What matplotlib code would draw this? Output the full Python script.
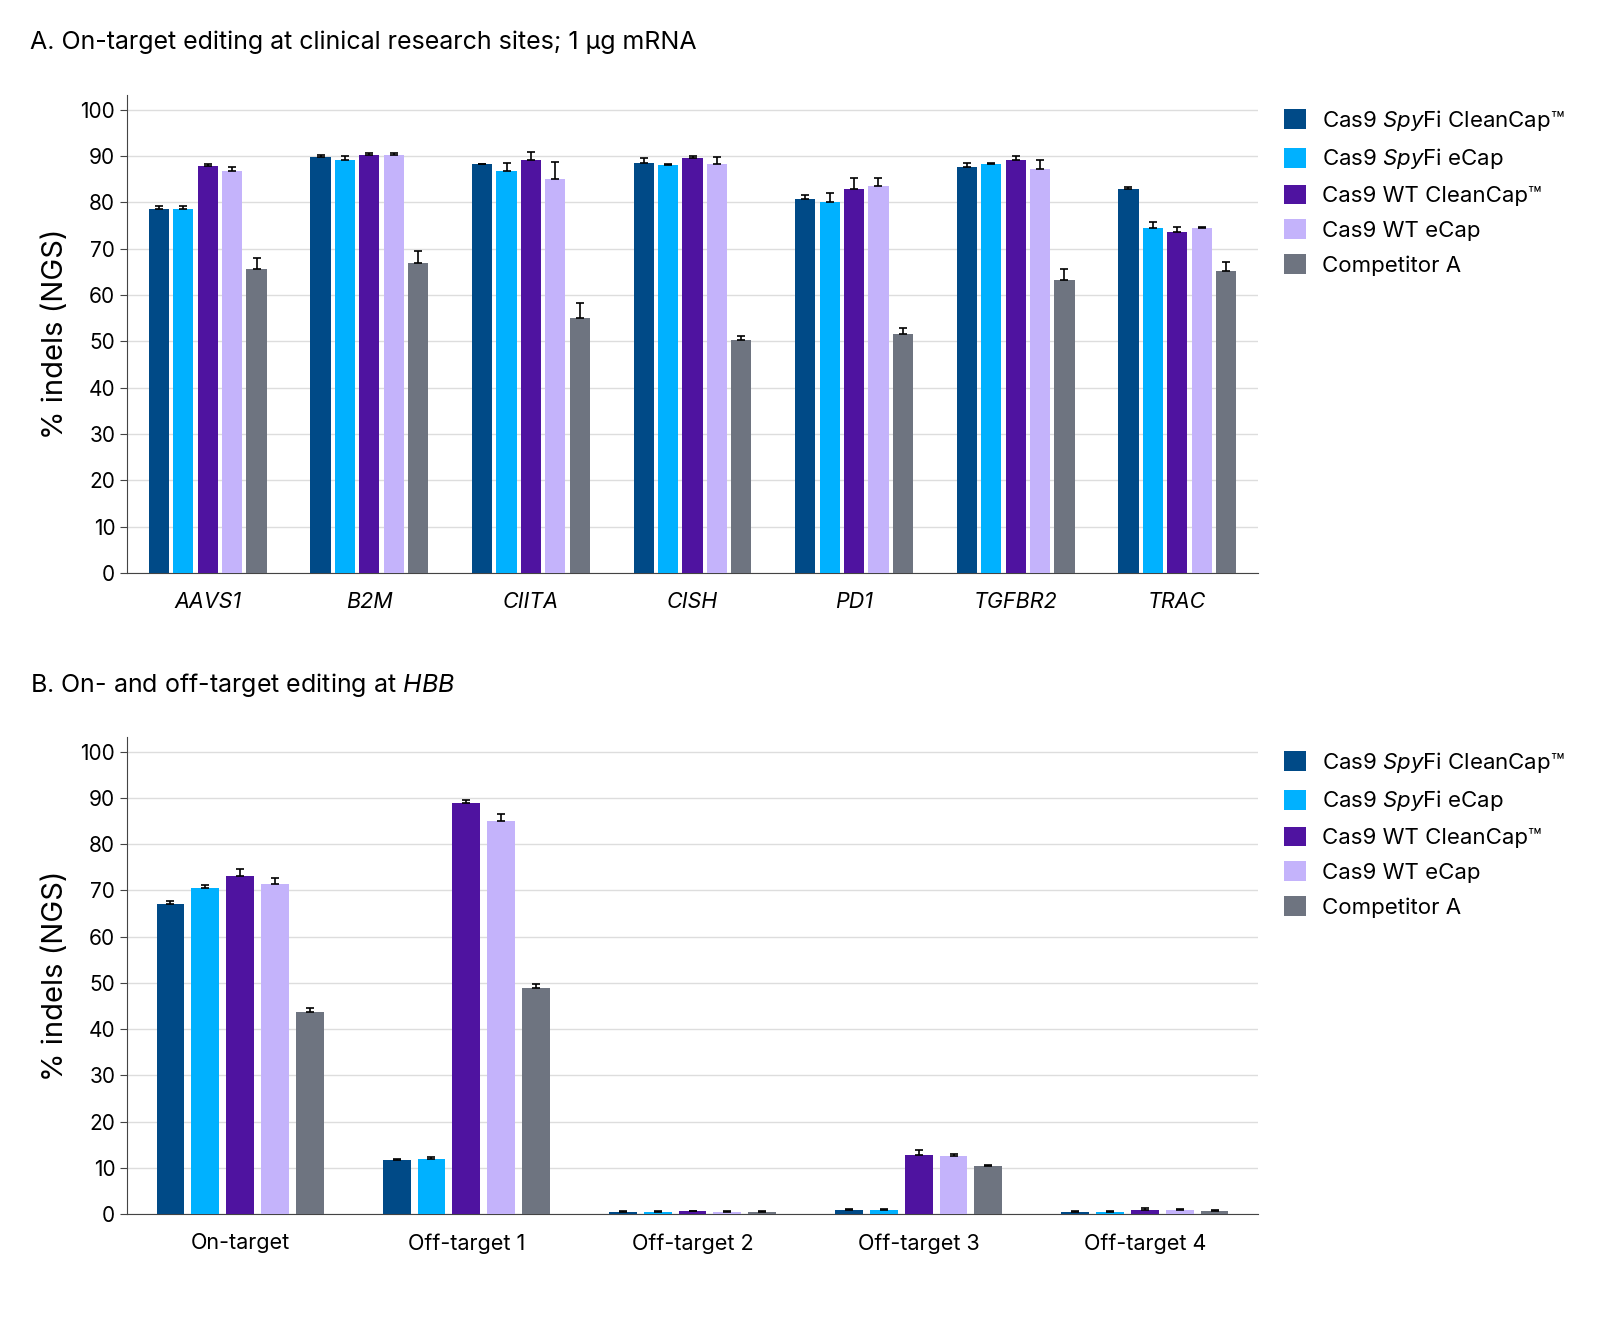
import numpy as np
import matplotlib.pyplot as plt

plt.rcParams['font.family'] = ['Inter', 'DejaVu Sans']
plt.rcParams['mathtext.fontset'] = 'custom'
plt.rcParams['mathtext.it'] = 'Inter:italic'
plt.rcParams['mathtext.rm'] = 'Inter'

series = [r'Cas9 $\it{Spy}$Fi CleanCap™', r'Cas9 $\it{Spy}$Fi eCap',
          'Cas9 WT CleanCap™', 'Cas9 WT eCap', 'Competitor A']
colors = ['#004a87', '#00b1ff', '#4f13a0', '#c4b3fb', '#6e7480']

sites_a = ['AAVS1', 'B2M', 'CIITA', 'CISH', 'PD1', 'TGFBR2', 'TRAC']
vals_a = [[78.5, 78.5, 87.8, 86.8, 65.7],
          [89.8, 89.2, 90.2, 90.2, 67.0],
          [88.3, 86.8, 89.2, 85.0, 55.0],
          [88.5, 88.0, 89.5, 88.3, 50.2],
          [80.8, 80.2, 83.0, 83.5, 51.7],
          [87.7, 88.2, 89.2, 87.2, 63.3],
          [83.0, 74.5, 73.7, 74.5, 65.3]]
err_a = [[0.8, 0.8, 0.5, 0.8, 2.3],
         [0.5, 0.9, 0.4, 0.4, 2.5],
         [0.0, 1.8, 1.7, 3.8, 3.3],
         [1.0, 0.3, 0.5, 1.5, 1.0],
         [0.8, 1.8, 2.2, 1.7, 1.3],
         [0.8, 0.3, 0.8, 2.0, 2.3],
         [0.4, 1.3, 1.1, 0.2, 1.9]]

sites_b = ['On-target', 'Off-target 1', 'Off-target 2', 'Off-target 3', 'Off-target 4']
vals_b = [[67.0, 70.5, 73.2, 71.5, 43.8],
          [11.6, 12.0, 89.0, 85.0, 49.0],
          [0.5, 0.5, 0.6, 0.5, 0.5],
          [0.9, 0.9, 12.7, 12.6, 10.3],
          [0.5, 0.5, 0.9, 0.8, 0.6]]
err_b = [[0.8, 0.6, 1.5, 1.2, 0.8],
         [0.3, 0.3, 0.5, 1.6, 0.8],
         [0.1, 0.1, 0.1, 0.1, 0.1],
         [0.2, 0.2, 1.2, 0.4, 0.3],
         [0.1, 0.1, 0.3, 0.2, 0.2]]

fig = plt.figure(figsize=(16.01, 13.17), dpi=100)


def panel(rect, sites, vals, errs, step, width, italic, title, title_y):
    ax = fig.add_axes(rect)
    vals = np.array(vals)
    errs = np.array(errs)
    x = np.arange(len(sites))
    for i in range(5):
        ax.bar(x + (i - 2) * step, vals[:, i], width, color=colors[i], label=series[i],
               zorder=3, yerr=[np.zeros(len(sites)), errs[:, i]],
               error_kw=dict(ecolor='black', elinewidth=1.2, capsize=3, capthick=1.2, zorder=4))
    ax.set_xlim(-0.5, len(sites) - 0.5)
    ax.set_ylim(0, 103.2)
    ax.set_yticks(range(0, 101, 10))
    ax.yaxis.grid(True, color='#dddddd', lw=1, zorder=0)
    ax.set_xticks(x)
    ax.set_xticklabels(sites, fontsize=15.5, style='italic' if italic else 'normal')
    ax.tick_params(axis='x', length=0, pad=14)
    ax.tick_params(axis='y', labelsize=15, length=5, color='#444444')
    for s in ['top', 'right']:
        ax.spines[s].set_visible(False)
    for s in ['left', 'bottom']:
        ax.spines[s].set_color('#444444')
    ax.set_ylabel('% indels (NGS)', fontsize=21, labelpad=8)
    fig.text(30 / 1601, title_y, title, fontsize=18, va='center')
    ax.legend(loc='upper left', bbox_to_anchor=(1275 / 1601, rect[1] + rect[3] - 0.003),
              bbox_transform=fig.transFigure, frameon=False, fontsize=16,
              handlelength=1.0, handleheight=1.0, labelspacing=0.6, handletextpad=0.7,
              borderaxespad=0)
    return ax


panel([127 / 1601, 1 - 573 / 1317, 1131 / 1601, 478 / 1317], sites_a, vals_a, err_a,
      0.151, 0.125, True, 'A. On-target editing at clinical research sites; 1 µg mRNA', 1 - 42 / 1317)
panel([127 / 1601, 1 - 1214 / 1317, 1131 / 1601, 477 / 1317], sites_b, vals_b, err_b,
      0.154, 0.123, False, r'B. On- and off-target editing at $\it{HBB}$', 1 - 685 / 1317)

fig.savefig('out.png', dpi=100)
